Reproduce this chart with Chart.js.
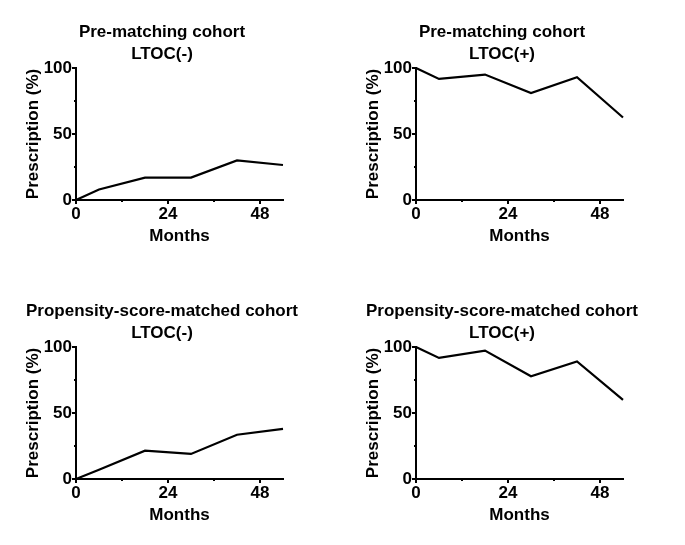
<!DOCTYPE html>
<html>
  <head>
    <title>Prescription over time</title>
    <script src="https://cdn.jsdelivr.net/npm/chart.js"></script>
    <style>
      body {
        margin: 0;
        background: #fff;
        font-family: 'Liberation Sans', Arial, sans-serif;
      }
      #page {
        position: relative;
        width: 685px;
        height: 545px;
      }
      .panel {
        position: absolute;
        width: 340px;
        height: 256px;
      }
      .panel canvas {
        position: absolute;
        left: 0;
        top: 0;
      }
      .ttl {
        position: absolute;
        left: 0;
        top: 21px;
        width: 324px;
        text-align: center;
        font-weight: bold;
        font-size: 17px;
        line-height: 21.6px;
        color: #000;
      }
    </style>
  </head>
  <body>
    <div id="page"></div>
    <script>
      // --- Data ---
      const months = [0, 6, 18, 30, 42, 54];
      const preNeg = [0, 8, 17, 17, 30, 26.5];
      const prePos = [100, 91.7, 95, 81, 93, 62.5];
      const psmNeg = [0, 7, 21.5, 19, 33.5, 38];
      const psmPos = [100, 91.7, 97.3, 77.8, 89, 60];

      const titles = [
        ["Pre-matching cohort", "LTOC(-)"],
        ["Pre-matching cohort", "LTOC(+)"],
        ["Propensity-score-matched cohort", "LTOC(-)"],
        ["Propensity-score-matched cohort", "LTOC(+)"]
      ];
      const series = [preNeg, prePos, psmNeg, psmPos];
      const xTicks = [0, 12, 24, 36, 48];
      const yTicks = [0, 25, 50, 75, 100];
      const xMajor = [0, 24, 48];
      const yMajor = [0, 50, 100];
      const xTitle = "Months";
      const yTitle = "Prescription (%)";

      const origins = [[0, 0], [340, 0], [0, 279], [340, 279]];
      const FONT = "'Liberation Sans', Arial, sans-serif";

      // short minor ticks (Chart.js has no minor ticks on linear scales)
      const minorTicks = {
        id: 'minorTicks',
        afterDraw(chart) {
          const c = chart.ctx;
          const xs = chart.scales.x, ys = chart.scales.y;
          c.save();
          c.strokeStyle = '#000';
          c.lineWidth = 2;
          c.beginPath();
          xTicks.filter(v => !xMajor.includes(v)).forEach(v => {
            const px = xs.getPixelForValue(v);
            c.moveTo(px, xs.top);
            c.lineTo(px, xs.top + 2);
          });
          yTicks.filter(v => !yMajor.includes(v)).forEach(v => {
            const py = ys.getPixelForValue(v);
            c.moveTo(ys.right, py);
            c.lineTo(ys.right - 2, py);
          });
          c.stroke();
          c.restore();
        }
      };

      const page = document.getElementById('page');
      series.forEach((vals, i) => {
        const panel = document.createElement('div');
        panel.className = 'panel';
        panel.style.left = origins[i][0] + 'px';
        panel.style.top = origins[i][1] + 'px';
        const canvas = document.createElement('canvas');
        canvas.width = 340;
        canvas.height = 256;
        panel.appendChild(canvas);
        const ttl = document.createElement('div');
        ttl.className = 'ttl';
        ttl.innerHTML = titles[i].join('<br>');
        panel.appendChild(ttl);
        page.appendChild(panel);

        new Chart(canvas.getContext('2d'), {
          type: 'line',
          data: {
            datasets: [{
              data: months.map((m, k) => ({x: m, y: vals[k]})),
              borderColor: '#000',
              borderWidth: 2.2,
              pointRadius: 0,
              tension: 0,
              fill: false,
              clip: false
            }]
          },
          options: {
            responsive: false,
            animation: false,
            layout: { padding: { left: 0, top: 68, right: 57, bottom: 0 } },
            plugins: {
              legend: { display: false },
              tooltip: { enabled: false }
            },
            scales: {
              x: {
                type: 'linear',
                min: 0,
                max: 54,
                afterBuildTicks: s => { s.ticks = xTicks.map(v => ({value: v})); },
                afterFit: s => { s.height = 56; },
                border: { display: true, color: '#000', width: 2 },
                grid: {
                  drawOnChartArea: false,
                  tickLength: 4,
                  lineWidth: 2,
                  tickColor: ctx => xMajor.includes(ctx.tick.value) ? '#000' : 'rgba(0,0,0,0)'
                },
                ticks: {
                  padding: 0,
                  color: '#000',
                  maxRotation: 0,
                  font: { family: FONT, size: 17, weight: 'bold' },
                  callback: v => xMajor.includes(v) ? String(v) : ''
                },
                title: {
                  display: true,
                  text: xTitle,
                  color: '#000',
                  padding: { top: 0, bottom: 9 },
                  font: { family: FONT, size: 17, weight: 'bold' }
                }
              },
              y: {
                min: 0,
                max: 100,
                afterBuildTicks: s => { s.ticks = yTicks.map(v => ({value: v})); },
                afterFit: s => { s.width = 76; },
                border: { display: true, color: '#000', width: 2 },
                grid: {
                  drawOnChartArea: false,
                  tickLength: 4,
                  lineWidth: 2,
                  tickColor: ctx => yMajor.includes(ctx.tick.value) ? '#000' : 'rgba(0,0,0,0)'
                },
                ticks: {
                  padding: 0,
                  color: '#000',
                  font: { family: FONT, size: 17, weight: 'bold' },
                  callback: v => yMajor.includes(v) ? String(v) : ''
                },
                title: {
                  display: true,
                  text: yTitle,
                  color: '#000',
                  padding: { top: 23, bottom: 0 },
                  font: { family: FONT, size: 17, weight: 'bold' }
                }
              }
            }
          },
          plugins: [minorTicks]
        });
      });
    </script>
  </body>
</html>
